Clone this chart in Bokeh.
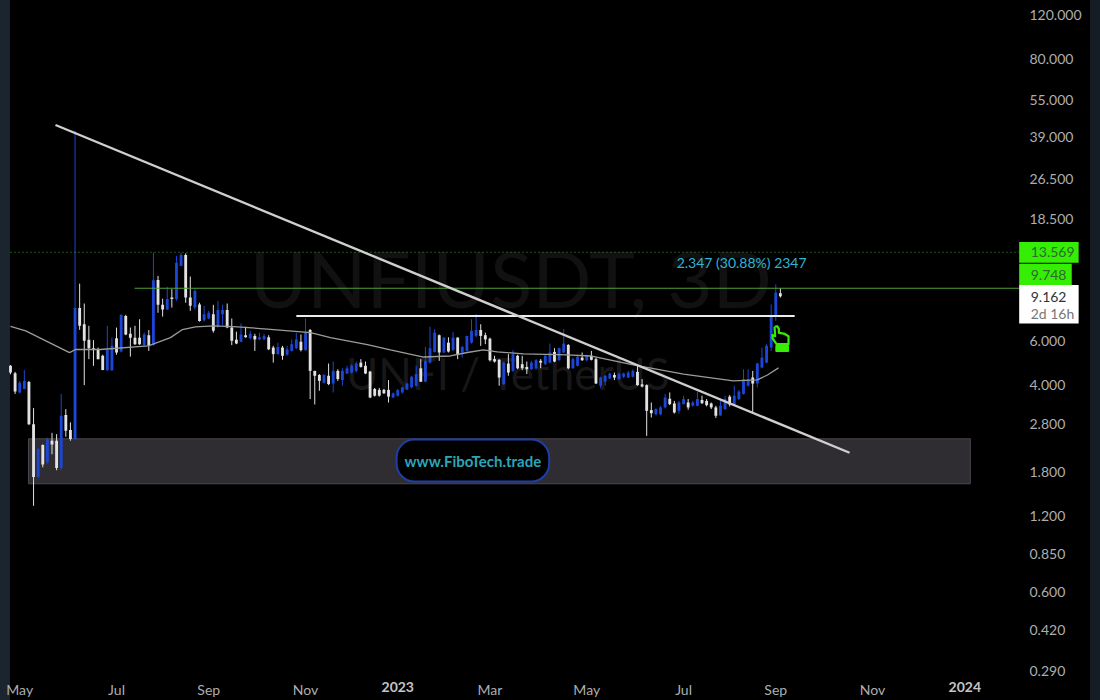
from bokeh.plotting import figure
from bokeh.models import Range1d, FixedTicker, Label, PrintfTickFormatter
from bokeh.core.properties import value
from bokeh.embed import file_html
from bokeh.resources import INLINE

# Candles, one per 3-day bar (prices in USDT)
highs = [4.81,4.52,4.16,4.59,4.16,3.24,2.24,2.32,2.47,2.58,
2.55,3.69,3.21,2.84,41.4,10.17,8.47,6.90,6.05,5.65,
5.29,6.90,6.19,6.79,7.68,7.63,6.79,6.90,7.33,6.48,
6.64,13.52,10.92,8.85,9.87,9.67,13.12,13.52,13.43,10.85,
9.67,8.53,8.29,7.92,8.37,8.68,8.37,8.47,7.38,6.54,
7.05,6.84,6.59,6.41,6.48,6.41,6.33,5.74,5.91,5.74,
5.74,6.09,6.48,6.37,7.38,6.70,4.56,4.43,4.43,4.88,
4.97,4.63,4.67,4.78,4.85,4.97,5.08,4.97,4.56,3.90,
3.90,3.86,4.19,3.74,3.86,3.94,4.09,4.36,4.78,5.08,
5.68,6.84,6.70,6.37,6.21,6.21,6.52,6.21,5.74,6.29,
7.33,7.68,7.00,6.48,6.19,5.24,5.08,4.97,5.32,5.52,
5.29,5.24,4.97,5.00,5.08,5.08,5.32,5.86,5.62,5.65,
6.70,5.83,5.15,5.24,5.40,5.29,5.48,5.15,4.32,4.39,
4.49,4.49,4.49,4.49,4.56,4.63,4.78,4.23,4.03,3.41,
3.24,3.31,3.69,3.74,3.46,3.46,3.63,3.52,3.46,3.77,
3.63,3.52,3.41,3.31,3.52,3.63,3.65,3.98,3.82,4.63,
4.63,4.56,4.92,5.65,5.83,8.40,10.10,9.74]
body_tops = [4.78,4.46,4.09,4.16,4.12,2.79,2.22,2.31,2.44,2.40,
2.40,3.02,3.04,2.65,8.12,8.12,7.00,6.07,5.62,5.56,
5.24,5.52,5.74,6.15,7.63,7.56,6.41,6.19,6.19,6.37,
6.33,10.50,10.52,8.37,8.82,8.95,12.33,13.24,13.24,8.95,
9.51,8.40,7.68,7.78,7.68,7.98,7.98,7.98,6.79,6.07,
6.37,6.33,6.41,6.29,6.21,6.29,6.21,5.65,5.68,5.65,
5.56,5.83,6.09,5.96,6.48,6.64,4.56,4.39,4.39,4.36,
4.56,4.56,4.56,4.67,4.78,4.88,4.92,4.78,4.53,3.86,
3.83,3.83,3.83,3.71,3.82,3.92,4.06,4.32,4.43,4.67,
5.00,5.62,6.48,6.33,6.19,5.91,6.19,6.19,5.68,6.29,
6.59,6.64,6.64,6.33,6.13,5.08,5.05,4.92,4.88,5.32,
5.24,4.85,4.73,4.92,5.03,5.00,5.24,5.40,5.43,5.62,
5.86,5.79,5.08,5.19,5.15,5.24,5.24,5.08,4.29,4.36,
4.45,4.39,4.43,4.45,4.49,4.56,4.52,4.03,4.00,3.18,
3.21,3.26,3.57,3.53,3.38,3.41,3.52,3.41,3.41,3.52,
3.49,3.46,3.38,3.26,3.31,3.52,3.60,3.63,3.77,4.23,
4.23,4.29,4.88,5.15,5.74,7.56,9.36,9.31]
body_bottoms = [4.49,3.77,3.74,3.86,2.79,1.72,1.72,1.93,1.97,2.32,
1.87,1.87,2.63,2.44,2.44,6.90,6.01,5.62,5.52,5.08,
4.60,4.59,4.59,5.40,5.45,6.37,6.19,5.83,5.83,5.79,
5.74,5.79,8.37,8.01,8.01,8.82,8.82,11.97,8.95,8.29,
8.16,7.22,7.27,7.38,6.59,6.90,7.68,6.79,6.01,5.86,
5.96,6.21,6.15,6.09,6.09,6.09,5.56,5.32,5.32,5.24,
5.29,5.48,5.62,5.52,5.52,4.56,4.36,4.16,4.09,4.04,
4.06,4.23,4.19,4.45,4.49,4.56,4.73,4.45,3.57,3.63,
3.63,3.71,3.60,3.57,3.63,3.74,3.85,3.92,3.98,4.13,
4.13,4.92,5.43,5.40,5.40,5.45,5.52,5.29,5.40,5.48,
5.91,6.29,6.29,6.09,5.03,4.97,4.29,4.04,4.49,4.56,
4.67,4.67,4.63,4.63,4.67,4.92,4.85,4.92,4.97,5.03,
5.40,4.67,4.67,4.78,5.03,5.03,5.05,4.06,3.98,4.13,
4.25,4.29,4.23,4.32,4.29,4.32,4.00,3.95,3.16,3.09,
3.06,3.06,3.26,3.36,3.11,3.16,3.36,3.26,3.31,3.31,
3.39,3.33,3.26,3.02,3.03,3.21,3.35,3.35,3.52,3.69,
3.98,4.06,4.06,4.70,4.92,5.65,7.56,9.05]
lows = [4.42,3.69,3.71,3.86,2.77,1.32,1.71,1.88,1.94,2.12,
1.83,1.83,2.49,2.40,2.42,6.65,4.00,5.08,4.78,5.08,
4.59,4.56,4.56,5.29,5.40,6.33,5.20,5.79,5.79,5.76,
5.48,5.74,7.78,7.51,7.98,8.16,8.68,11.97,8.53,7.92,
8.01,7.17,7.17,7.33,6.48,6.79,6.96,6.75,5.78,5.83,
5.94,6.19,6.09,5.48,6.05,6.07,5.52,4.92,5.29,5.05,
5.24,5.45,5.56,5.45,5.48,3.52,3.35,3.80,4.06,4.00,
3.74,4.16,3.98,4.43,4.45,4.49,4.70,4.43,3.55,3.60,
3.60,3.69,3.41,3.55,3.60,3.70,3.82,3.88,3.94,4.12,
4.11,4.88,5.40,5.00,5.37,5.40,5.48,5.08,5.15,5.45,
5.86,6.21,5.74,5.83,4.97,4.92,3.98,4.00,4.36,4.52,
4.63,4.59,4.43,4.60,4.65,4.67,4.81,4.89,4.94,5.00,
5.37,4.63,4.65,4.75,5.00,4.97,5.02,4.04,3.90,3.98,
4.23,4.19,4.19,4.27,4.27,4.29,3.98,3.92,2.51,2.97,
3.03,3.03,3.23,3.33,3.08,3.08,3.35,3.19,3.28,3.29,
3.36,3.29,3.21,2.96,3.02,3.19,3.29,3.33,3.49,3.67,
3.95,3.11,3.92,4.67,4.89,5.48,7.22,8.95]
# B = close above open (blue), W = close below open (white)
directions = ("WWBBWWBWBW" "WBWWBWWWWW" "WBBWBWWWWB" "WBWWBWBBWW" "BWBBWBBWWW"
              "BWBWBBWWBW" "BBBWBWWWBW" "BWBBBBWWWW" "WWWBBBBBBW" "BBBWBWBWBB"
              "BBWWWWWBWB" "WWWBBWBBWB" "BWBBWBWWBB" "BWBBBBWWWW" "BBBWWBBWBB"
              "WWWWBBWBBB" "BWBBBBBW")

# Moving average
ma_bars = [0,3.3,12.8,14.1,19.5,29.9,34.7,37.3,40.1,44,48.4,55.7,65.1,69.4,77.4,82.4,
           89.6,95.4,99.1,102.6,105.6,111.3,120.8,125.8,135.1,146,156.8,162,164.2,166.6]
ma_prices = [6.87,6.59,5.39,5.55,5.55,5.74,6.19,6.67,6.84,6.9,6.85,6.70,6.48,6.19,5.80,5.53,
             5.18,5.23,5.40,5.53,5.43,5.33,5.28,5.23,4.82,4.43,4.16,4.2,4.39,4.69]

# Drawings
trend_bars = [9.76, 182.0]
trend_prices = [43.7, 2.149]
resistance_bars = [62.0, 170.1]
resistance_price = 7.56
zone_bars = [3.9, 208.2]
zone_prices = [1.616, 2.443]
target_price = 9.748
target_start_bar = 26.9
high_price = 13.569
last_price = 9.162

# Axes
price_ticks = [120, 80, 55, 39, 26.5, 18.5, 6, 4, 2.8, 1.8, 1.2, 0.85, 0.6, 0.42, 0.29]
date_ticks = [2, 23, 43, 64, 104, 125, 146, 166, 187]
date_labels = ["May", "Jul", "Sep", "Nov", "Mar", "May", "Jul", "Sep", "Nov"]
year_ticks = [84, 207]
year_labels = ["2023", "2024"]

# Ranges: the frame spans the whole picture; the price scale starts at bar 218.8
x_start, x_end = -2.169, 234.27
y_start, y_end = 0.2373, 137.2
scale_edge = 218.8

BLUE, WHITE = "#1c46d6", "#e2e2e2"
GREEN = "#36ee05"

p = figure(width=1100, height=700, output_backend="svg", toolbar_location=None,
           y_axis_type="log", y_axis_location="right",
           x_range=Range1d(x_start, x_end), y_range=Range1d(y_start, y_end),
           min_border_left=0, min_border_top=0, min_border_right=10, min_border_bottom=0)
p.background_fill_color = None
p.border_fill_color = None
p.outline_line_color = None
p.grid.visible = False

xa, ya = p.xaxis[0], p.yaxis[0]
for a in (xa, ya):
    a.axis_line_color = None
    a.major_tick_line_color = None
    a.minor_tick_line_color = None
    a.major_label_text_color = "#aeaeae"
    a.major_label_text_font = "Lato"
    a.major_label_text_font_size = "14px"
ya.ticker = FixedTicker(ticks=price_ticks)
ya.formatter = PrintfTickFormatter(format="%.3f")
ya.major_label_standoff = -67
xa.ticker = FixedTicker(ticks=date_ticks)
xa.major_label_overrides = dict(zip(date_ticks, date_labels))
xa.major_label_standoff = -18

# Watermark
p.text([108.5], [10.7], text=["UNFIUSDT, 3D"], text_font=value("Lato"), text_font_size="78px",
       text_color="#111111", text_align="center", text_baseline="middle")
p.text([108], [4.47], text=["UNFI / TetherUS"], text_font=value("Lato"), text_font_size="44px",
       text_color="#171717", text_align="center", text_baseline="middle")

# Zone under the candles
p.quad(left=zone_bars[0], right=zone_bars[1], bottom=zone_prices[0], top=zone_prices[1],
       fill_color="#2f2c32", line_color="#4a484e", line_width=1)

# Candles
bars = list(range(len(highs)))
colors = [BLUE if d == "B" else WHITE for d in directions]
p.segment(bars, lows, bars, highs, color=colors, line_width=1)
p.vbar(x=bars, width=0.62, bottom=body_bottoms, top=body_tops, fill_color=colors, line_color=None)

# Moving average and drawings
p.line(ma_bars, ma_prices, line_color="#9c9c96", line_width=1.3)
p.line([0, scale_edge], [high_price, high_price], line_color="#3aa832", line_width=1.2, line_dash="1 3")
p.line([target_start_bar, scale_edge], [target_price, target_price], line_color="#4f9f3c", line_width=1.2)
p.line(resistance_bars, [resistance_price, resistance_price], line_color="#ececec", line_width=2)
p.line(trend_bars, trend_prices, line_color="#cfcfcf", line_width=2.4)

# Annotations on the chart
p.text([158.6], [12.4], text=["2.347 (30.88%) 2347"], text_font=value("Lato"), text_font_size="14px",
       text_color="#2fb4d8", text_align="center", text_baseline="middle")

# Hand icon: outline given as picture offsets around its anchor, mapped to the chart's scales
def icon_x(px):
    return (px - 10) / 4.61
def icon_y(py):
    return 120 * 10 ** (-(py - 14) / 250.7)
hand_outline = [(42,18),(50,16),(55,24),(55,36),(70,38),(84,46),(84,70),(48,70),(36,52),(36,42),(44,46),(42,18)]
hand_cuff = [(46,74),(84,74),(84,92),(46,92)]
p.line([icon_x(760 + a / 3) for a, b in hand_outline], [icon_y(320 + b / 3) for a, b in hand_outline],
       line_color=GREEN, line_width=2.2, line_join="round")
p.patch([icon_x(760 + a / 3) for a, b in hand_cuff], [icon_y(320 + b / 3) for a, b in hand_cuff],
        fill_color=GREEN, line_color=GREEN, line_width=1)

p.add_layout(Label(x=100.3, y=2.0, text="www.FiboTech.trade", text_font="Lato", text_font_size="15px",
                   text_font_style="bold", text_color="#2ba6b8", text_align="center", text_baseline="middle",
                   background_fill_color="#000000", border_line_color="#1e3fa8", border_line_width=2,
                   border_radius=18, padding=(8, 12)))

# Price tags on the scale
tag_left, tag_wide, tag_narrow = scale_edge, 231.7, 230.2
p.quad(left=tag_left, right=tag_wide, bottom=12.31, top=14.92, fill_color=GREEN, line_color=None)
p.quad(left=tag_left, right=tag_narrow, bottom=10.03, top=12.2, fill_color=GREEN, line_color=None)
p.quad(left=tag_left, right=tag_wide, bottom=7.05, top=10.03, fill_color="#ffffff", line_color=None)

def tag(price, text, color, y_offset=0):
    p.add_layout(Label(x=221.3, y=price, text=text, text_font="Lato", text_font_size="14px",
                       text_color=color, text_align="left", text_baseline="middle", y_offset=y_offset))

tag(high_price, "13.569", "#2f6a2f")
tag(target_price, "9.748", "#2f6a2f", y_offset=13)
tag(last_price, "9.162", "#333333", y_offset=-2)
tag(last_price, "2d 16h", "#777777", y_offset=-19)

# Year labels are bold, so they sit next to the axis's own labels
p.text(year_ticks, [0.2507, 0.2507], text=year_labels, text_font=value("Lato"), text_font_size="14px",
       text_font_style="bold", text_color="#c4c4c4", text_align="center", text_baseline="middle")

html = file_html(p, INLINE)
style = ("<style>html,body{background:linear-gradient(to right,#1b2530 10px,#000 10px,#000 1090px,#151c23 1090px);"
         "background-attachment:fixed;}</style>")
html = html.replace("</head>", style + "</head>")
open("out.html", "w").write(html)
